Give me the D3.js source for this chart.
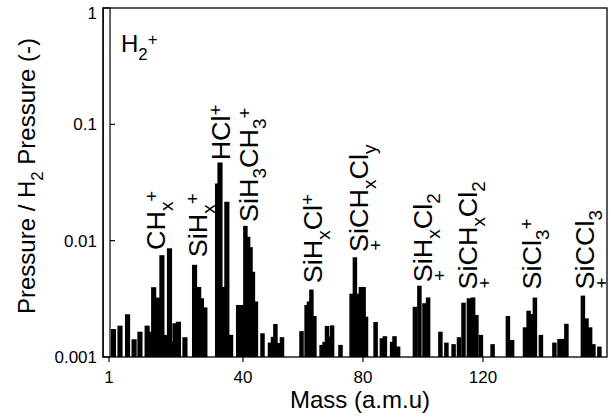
<!DOCTYPE html>
<html><head><meta charset="utf-8">
<script src="https://cdn.jsdelivr.net/npm/d3@7"></script>
<style>body{margin:0;background:#fff}svg{display:block}text{font-family:"Liberation Sans",Arial,Helvetica,sans-serif;fill:#000}</style>
</head><body>
<svg id="c" width="611" height="419"></svg>
<script>
// ---- data ----
const h2Mass = 0.3;
const h2Value = 1;
const barMasses = [2.3,4.2,6.4,8.3,10.0,12.1,13.1,14.0,15.1,16.4,17.6,18.6,19.3,20.2,21.2,23.1,25.9,27.1,27.9,28.9,32.6,33.3,34.2,35.3,36.4,38.7,40.0,
  40.8,41.7,42.5,43.3,44.3,46.5,49,50,50.8,51.8,53,59.5,61.2,62,62.8,63.8,66.2,67.2,68,68.8,69.7,72.5,76.2,77.3,78.5,79.3,80.2,81,
  84.2,86.3,87.3,89.7,90.5,91.7,97.3,98.8,100.5,101.7,105.8,107.8,110.2,112,113.5,115.3,116.7,117.8,119.3,123.2,128.3,129.7,
  134,135.2,136.2,137.3,139.3,143.8,145.5,146.5,147.8,153.3,154.5,155.7,156.8,158.8];
const barValues = [1.74e-3,1.86e-3,2.33e-3,1.42e-3,1.65e-3,1.86e-3,1.65e-3,3.98e-3,3.24e-3,7.5e-3,1.55e-3,8.6e-3,1.35e-3,1.95e-3,2.01e-3,1.48e-3,6.2e-3,4.0e-3,3.2e-3,2.67e-3,0.031,0.047,0.004,0.0216,1.55e-3,2.8e-3,2.8e-3,
  0.0134,0.0108,0.0088,0.0054,3.0e-3,1.6e-3,1.33e-3,1.49e-3,1.92e-3,1.32e-3,1.48e-3,1.67e-3,2.8e-3,3.0e-3,3.8e-3,2.25e-3,1.27e-3,1.35e-3,1.85e-3,1.5e-3,1.87e-3,1.27e-3,3.5e-3,7.2e-3,3.5e-3,4.0e-3,4.0e-3,2.22e-3,
  2.0e-3,1.45e-3,1.51e-3,1.35e-3,1.51e-3,1.23e-3,2.7e-3,4.1e-3,2.9e-3,3.25e-3,1.65e-3,1.33e-3,1.29e-3,1.48e-3,2.93e-3,3.2e-3,3.25e-3,2.3e-3,1.55e-3,1.29e-3,2.25e-3,1.4e-3,
  1.8e-3,2.5e-3,2.34e-3,3.24e-3,1.55e-3,1.33e-3,1.43e-3,1.43e-3,1.93e-3,3.37e-3,2.15e-3,1.8e-3,1.29e-3,1.23e-3];
const xTickValues = [1, 40, 80, 120];
const xTickLabels = ["1", "40", "80", "120"];
const yTickValues = [0.001, 0.01, 0.1, 1];
const yTickLabels = ["0.001", "0.01", "0.1", "1"];
// peak annotations: [text, kind] segments; kind: "" normal, "sub", "sup"
const labelTexts = [
  [["CH",""],["x","sub"],["+","sup"]],
  [["SiH",""],["x","sub"],["+","sup"]],
  [["HCl",""],["+","sup"]],
  [["SiH",""],["3","sub"],["CH",""],["3","sub"],["+","sup"]],
  [["SiH",""],["x","sub"],["Cl",""],["+","sup"]],
  [["SiCH",""],["x","sub"],["Cl",""],["y","sub"]],
  [["SiH",""],["x","sub"],["Cl",""],["2","sub"]],
  [["SiCH",""],["x","sub"],["Cl",""],["2","sub"]],
  [["SiCl",""],["3","sub"],["+","sup"]],
  [["SiCCl",""],["3","sub"]]
];
const labelMasses = [17.3, 29.5, 36.2, 45.0, 66.3, 81.7, 103.0, 118.0, 139.3, 157.0];
const labelValues = [0.0083, 0.0072, 0.049, 0.0145, 0.0043, 0.008, 0.0044, 0.0038, 0.0038, 0.0038];
const labelPlusBelow = [false, false, false, false, false, true, true, true, false, true];

// ---- layout ----
const L = 103, R = 607, T = 8, B = 357;
const svg = d3.select("#c");
const x = d3.scaleLinear().domain(xTickValues.slice(0,3)).range([109, 243, 363]);
const y = d3.scaleLog().domain([0.001, 1]).range([B, T]);
const FS = 24, LFS = 25;

// y ticks (inward)
svg.append("g").selectAll("line").data(yTickValues.slice(1,3)).join("line")
  .attr("x1", L).attr("x2", L + 12).attr("y1", d => y(d)).attr("y2", d => y(d))
  .attr("stroke", "#000").attr("stroke-width", 1.2);
// x ticks (outward)
svg.append("g").selectAll("line").data(xTickValues).join("line")
  .attr("x1", d => x(d)).attr("x2", d => x(d)).attr("y1", B).attr("y2", B + 5)
  .attr("stroke", "#000").attr("stroke-width", 1.2);

// bars
const bars = barMasses.map((m, i) => ({m, v: barValues[i]}));
svg.append("g").selectAll("rect").data(bars).join("rect")
  .attr("x", d => x(d.m - 0.75)).attr("width", d => x(d.m + 0.75) - x(d.m - 0.75))
  .attr("y", d => y(d.v)).attr("height", d => B - y(d.v)).attr("fill", "#000");
// H2 bar (outlined)
svg.append("rect")
  .attr("x", x(h2Mass - 1)).attr("width", x(h2Mass + 1) - x(h2Mass - 1))
  .attr("y", y(h2Value)).attr("height", B - y(h2Value))
  .attr("fill", "#fff").attr("stroke", "#000").attr("stroke-width", 1.2);

// frame
svg.append("rect").attr("x", L).attr("y", T).attr("width", R - L).attr("height", B - T)
  .attr("fill", "none").attr("stroke", "#000").attr("stroke-width", 1.3);

// tick labels
svg.append("g").selectAll("text").data(yTickValues).join("text")
  .attr("x", 97).attr("y", d => Math.max(y(d), 13)).attr("dy", "0.36em").attr("text-anchor", "end")
  .attr("font-size", 17).text((d, i) => yTickLabels[i]);
svg.append("g").selectAll("text").data(xTickValues).join("text")
  .attr("x", d => x(d)).attr("y", 383).attr("text-anchor", "middle")
  .attr("font-size", 17).text((d, i) => xTickLabels[i]);

// rich text helper
function rich(sel, segs, fs) {
  let cur = 0;
  segs.forEach(([t, k]) => {
    const target = k === "sub" ? fs * 0.33 : k === "sup" ? -fs * 0.3 : 0;
    sel.append("tspan").attr("dy", target - cur)
      .attr("font-size", k ? fs * 0.7 : fs).text(t);
    cur = target;
  });
}

// axis titles
svg.append("text").attr("x", 360).attr("y", 408).attr("text-anchor", "middle")
  .attr("font-size", FS).text("Mass (a.m.u)");
const yt = svg.append("text").attr("transform", "translate(35,176) rotate(-90)")
  .attr("text-anchor", "middle").attr("font-size", FS);
rich(yt, [["Pressure / H",""],["2","sub"],[" Pressure (-)",""]], FS);

// H2+ label
rich(svg.append("text").attr("x", 121).attr("y", 52).attr("font-size", FS),
  [["H",""],["2","sub"],["+","sup"]], FS);

// peak annotations
labelTexts.forEach((segs, i) => {
  const px = x(labelMasses[i]), py = y(labelValues[i]);
  const tr = `translate(${px},${py}) rotate(-90) scale(1.08,1)`;
  const t = svg.append("text").attr("transform", tr).attr("font-size", LFS);
  rich(t, segs, LFS);
  if (labelPlusBelow[i]) {
    svg.append("text").attr("transform", tr)
      .attr("x", 1).attr("y", LFS * 0.55).attr("font-size", LFS * 0.7).text("+");
  }
});
</script>
</body></html>
